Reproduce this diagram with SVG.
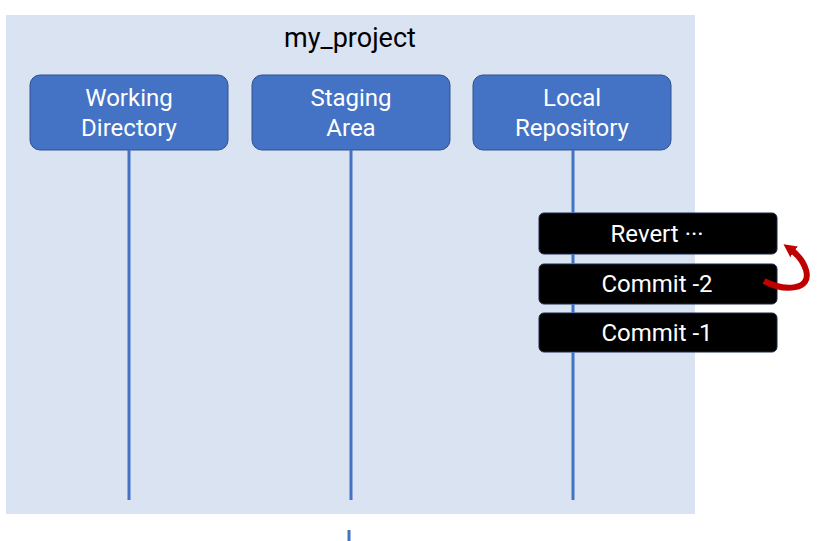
<svg xmlns="http://www.w3.org/2000/svg" width="823" height="541" viewBox="0 0 823 541">
<style>
.t{font-family:Roboto,"Noto Sans",sans-serif;text-anchor:middle}
.node rect{fill:#4472c4;stroke:#2f528f;stroke-width:1}
.node text{fill:#fff;font-size:24px}
.blk rect{fill:#000;stroke:#1a2a4a;stroke-width:1}
.blk text{fill:#fff;font-size:24px}
.ln{stroke:#4472c4;stroke-width:3}
</style>
<defs>
<marker id="ah" markerWidth="13" markerHeight="13" refX="5" refY="6.5" orient="auto" markerUnits="userSpaceOnUse" viewBox="0 0 13 13"><path d="M0,0 L13,6.5 L0,13 z" fill="#c00000"/></marker>
</defs>
<rect width="823" height="541" fill="#fff"/>
<rect id="panel" x="6" y="15" width="689" height="499" fill="#dae3f1"/>
<text class="t" x="350" y="47" font-size="27" fill="#000">my_project</text>
<g id="wd" class="node t"><rect x="30" y="75" width="198" height="75" rx="10"/><text x="129" y="106">Working</text><text x="129" y="136">Directory</text></g>
<g id="sa" class="node t"><rect x="252" y="75" width="198" height="75" rx="10"/><text x="351" y="106">Staging</text><text x="351" y="136">Area</text></g>
<g id="lr" class="node t"><rect x="473" y="75" width="198" height="75" rx="10"/><text x="572" y="106">Local</text><text x="572" y="136">Repository</text></g>
<g id="revert" class="blk t"><rect x="539" y="213" width="238" height="41" rx="5"/><text x="657" y="242">Revert ···</text></g>
<g id="c2" class="blk t"><rect x="539" y="264" width="238" height="40" rx="5"/><text x="657" y="292">Commit -2</text></g>
<g id="c1" class="blk t"><rect x="539" y="313" width="238" height="39" rx="5"/><text x="657" y="341">Commit -1</text></g>
<g id="connectors">
<line class="ln" x1="129" y1="150" x2="129" y2="500"/>
<line class="ln" x1="351" y1="150" x2="351" y2="500"/>
<line class="ln" x1="573" y1="150" x2="573" y2="213"/>
<line class="ln" x1="573" y1="254" x2="573" y2="264"/>
<line class="ln" x1="573" y1="304" x2="573" y2="313"/>
<line class="ln" x1="573" y1="352" x2="573" y2="500"/>
<line class="ln" x1="349" y1="530" x2="349" y2="541"/>
<path d="M764,281 C785,292 812,290 806,270 C803,260 797,254 790,249" fill="none" stroke="#c00000" stroke-width="6" marker-end="url(#ah)"/>
</g>
</svg>
